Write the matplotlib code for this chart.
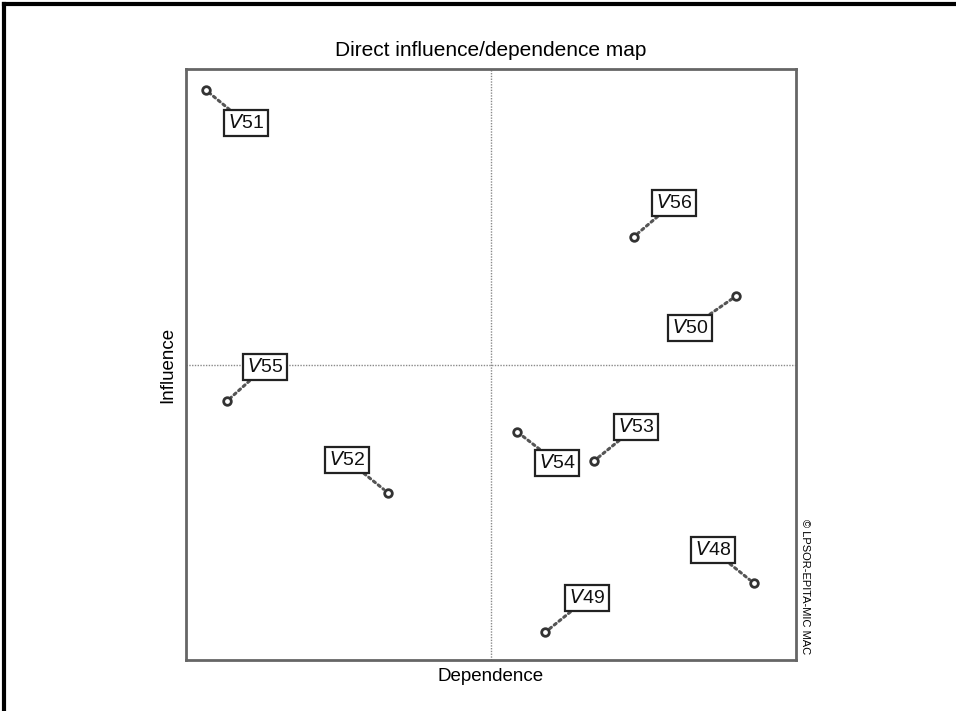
import matplotlib
matplotlib.use("Agg")
import matplotlib.pyplot as plt
from matplotlib.lines import Line2D

plt.rcParams['font.family'] = ['Liberation Sans', 'DejaVu Sans']

# variables : dependance (x), influence (y), sur une echelle 0-100
noms = ["51", "56", "50", "55", "52", "54", "53", "48", "49"]
dependance = [3.3, 73.4, 90.2, 6.7, 33.1, 54.3, 66.9, 93.1, 58.9]
influence = [96.4, 71.6, 61.6, 43.8, 28.3, 38.6, 33.7, 13.0, 4.7]
# decalage des etiquettes (pixels)
decal = [(40, -33), (40, 34), (-46, -32), (38, 34), (-41, 33),
         (40, -31), (42, 34), (-41, 33), (42, 34)]

fig = plt.figure(figsize=(9.56, 7.11), dpi=100)
ax = fig.add_axes([186/956, 51/711, 610/956, 591/711])

ax.set_xlim(0, 100)
ax.set_ylim(0, 100)
ax.set_xticks([])
ax.set_yticks([])
for s in ax.spines.values():
    s.set_color("#666666")
    s.set_linewidth(2)

ax.axvline(50, color="#8a8a8a", lw=1, ls=(0, (1, 1)), zorder=1)
ax.axhline(50, color="#8a8a8a", lw=1, ls=(0, (1, 1)), zorder=1)

ax.scatter(dependance, influence, s=30, facecolors="white",
           edgecolors="#333333", linewidths=2, zorder=4)

for i in range(len(noms)):
    ax.annotate(r"$\it{V}$" + noms[i], (dependance[i], influence[i]),
                xytext=decal[i], textcoords="offset pixels",
                ha="center", va="center", fontsize=14, color="#111111",
                bbox=dict(boxstyle="square,pad=0.2", fc="white",
                          ec="#222222", lw=1.6),
                arrowprops=dict(arrowstyle="-", color="#555555", lw=2.2,
                                ls=(0, (0.8, 1.2)), shrinkA=0, shrinkB=4,
                                capstyle="round"),
                zorder=3)

ax.set_title("Direct influence/dependence map", fontsize=15, pad=9)
ax.set_xlabel("Dependence", fontsize=13.5, labelpad=6)
ax.set_ylabel("Influence", fontsize=13.5, labelpad=7)

fig.text(805/956, 1 - 587/711, "© LPSOR-EPITA-MIC MAC", rotation=-90,
         ha="center", va="center", fontsize=8)

# cadre exterieur (gauche et haut)
fig.add_artist(Line2D([4/956, 4/956], [0, 1 - 4/711], color="black", lw=3,
                      transform=fig.transFigure))
fig.add_artist(Line2D([4/956, 1], [1 - 4/711, 1 - 4/711], color="black",
                      lw=3, transform=fig.transFigure))

fig.savefig("out.png", dpi=100)
